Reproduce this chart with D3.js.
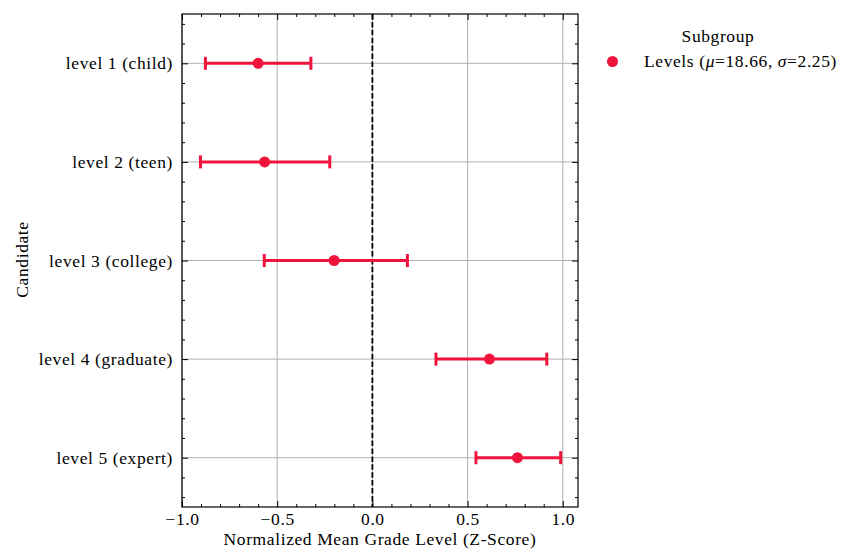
<!DOCTYPE html>
<html>
<head>
<meta charset="utf-8">
<script src="https://cdn.jsdelivr.net/npm/d3@7"></script>
<style>
  body { margin: 0; background: #fff; }
  svg { display: block; }
  text { font-family: "Liberation Serif", "Times New Roman", serif; fill: #000; letter-spacing: 0.6px; }
</style>
</head>
<body>
<svg id="chart" width="844" height="551"></svg>
<script>
// ---- data ----
const categories = ["level 1 (child)", "level 2 (teen)", "level 3 (college)", "level 4 (graduate)", "level 5 (expert)"];
const means = [-0.60, -0.566, -0.201, 0.615, 0.762];
const lowerBounds = [-0.877, -0.903, -0.568, 0.334, 0.544];
const upperBounds = [-0.323, -0.224, 0.184, 0.916, 0.989];
const xTickValues = [-1.0, -0.5, 0.0, 0.5, 1.0];
const xLabel = "Normalized Mean Grade Level (Z-Score)";
const yLabel = "Candidate";
const legendTitle = "Subgroup";
const seriesName = "Levels";
const seriesMu = "18.66";
const seriesSigma = "2.25";

// ---- layout ----
const W = 844, H = 551;
const m = { left: 182, right: 578, top: 14, bottom: 507 };
const red = "#F0143C";
const FS = 17.5;

const svg = d3.select("#chart");

const x = d3.scaleLinear().domain([-1.0, 1.08]).range([m.left, m.right]);
const y = d3.scaleLinear().domain([-0.5, 4.5]).range([m.top, m.bottom]);

const fmt = d3.format(".1f");

// grid
const g = svg.append("g");
g.selectAll("line.vgrid").data(xTickValues).join("line")
  .attr("x1", d => x(d)).attr("x2", d => x(d))
  .attr("y1", m.top).attr("y2", m.bottom)
  .attr("stroke", "#b0b0b0").attr("stroke-width", 1);
g.selectAll("line.hgrid").data(categories).join("line")
  .attr("x1", m.left).attr("x2", m.right)
  .attr("y1", (d, i) => y(i)).attr("y2", (d, i) => y(i))
  .attr("stroke", "#b0b0b0").attr("stroke-width", 1);

// zero line
svg.append("line")
  .attr("x1", x(0)).attr("x2", x(0))
  .attr("y1", m.top).attr("y2", m.bottom)
  .attr("stroke", "#000").attr("stroke-width", 1.8)
  .attr("stroke-dasharray", "5.5,2.4");

// minor tick values
const xMinor = d3.range(-10, 11).map(v => v / 10).filter(v => xTickValues.every(t => Math.abs(t - v) > 1e-9));
const yMinor = d3.range(-2, 23).map(v => v / 5).filter(v => Math.abs(v - Math.round(v)) > 1e-9);

function styleAxis(sel) {
  sel.select(".domain").remove();
  sel.selectAll(".tick line").attr("stroke", "#000").attr("stroke-width", 1);
}

// bottom axis
const bottom = svg.append("g").attr("transform", `translate(0,${m.bottom})`)
  .call(d3.axisBottom(x).tickValues(xTickValues).tickFormat(fmt).tickSize(-6));
styleAxis(bottom);
bottom.selectAll("text").attr("font-size", FS).attr("font-family", "Liberation Serif")
  .attr("y", 18).attr("dy", 0);
svg.append("g").attr("transform", `translate(0,${m.bottom})`)
  .call(d3.axisBottom(x).tickValues(xMinor).tickFormat("").tickSize(-3)).call(styleAxis);
// top axis
svg.append("g").attr("transform", `translate(0,${m.top})`)
  .call(d3.axisTop(x).tickValues(xTickValues).tickFormat("").tickSize(-6)).call(styleAxis);
svg.append("g").attr("transform", `translate(0,${m.top})`)
  .call(d3.axisTop(x).tickValues(xMinor).tickFormat("").tickSize(-3)).call(styleAxis);

// left axis
const left = svg.append("g").attr("transform", `translate(${m.left},0)`)
  .call(d3.axisLeft(y).tickValues(d3.range(categories.length)).tickFormat(i => categories[i]).tickSize(-6).tickPadding(9));
styleAxis(left);
left.selectAll("text").attr("font-size", FS).attr("font-family", "Liberation Serif");
svg.append("g").attr("transform", `translate(${m.left},0)`)
  .call(d3.axisLeft(y).tickValues(yMinor).tickFormat("").tickSize(-3)).call(styleAxis);
// right axis
svg.append("g").attr("transform", `translate(${m.right},0)`)
  .call(d3.axisRight(y).tickValues(d3.range(categories.length)).tickFormat("").tickSize(-6)).call(styleAxis);
svg.append("g").attr("transform", `translate(${m.right},0)`)
  .call(d3.axisRight(y).tickValues(yMinor).tickFormat("").tickSize(-3)).call(styleAxis);

// frame
svg.append("rect")
  .attr("x", m.left).attr("y", m.top)
  .attr("width", m.right - m.left).attr("height", m.bottom - m.top)
  .attr("fill", "none").attr("stroke", "#000").attr("stroke-width", 1.2);

// error bars
const rows = categories.map((c, i) => ({ c, i, mean: means[i], lo: lowerBounds[i], hi: upperBounds[i] }));
const eb = svg.append("g");
eb.selectAll("line.err").data(rows).join("line")
  .attr("x1", d => x(d.lo)).attr("x2", d => x(d.hi))
  .attr("y1", d => y(d.i)).attr("y2", d => y(d.i))
  .attr("stroke", red).attr("stroke-width", 3);
eb.selectAll("line.capl").data(rows).join("line")
  .attr("x1", d => x(d.lo)).attr("x2", d => x(d.lo))
  .attr("y1", d => y(d.i) - 6.5).attr("y2", d => y(d.i) + 6.5)
  .attr("stroke", red).attr("stroke-width", 3);
eb.selectAll("line.caph").data(rows).join("line")
  .attr("x1", d => x(d.hi)).attr("x2", d => x(d.hi))
  .attr("y1", d => y(d.i) - 6.5).attr("y2", d => y(d.i) + 6.5)
  .attr("stroke", red).attr("stroke-width", 3);
eb.selectAll("circle").data(rows).join("circle")
  .attr("cx", d => x(d.mean)).attr("cy", d => y(d.i)).attr("r", 5.5)
  .attr("fill", red);

// axis labels
svg.append("text").attr("x", (m.left + m.right) / 2).attr("y", 545)
  .attr("text-anchor", "middle").attr("font-size", FS).text(xLabel);
svg.append("text").attr("transform", `translate(28,${(m.top + m.bottom) / 2 - 1}) rotate(-90)`)
  .attr("text-anchor", "middle").attr("font-size", FS).text(yLabel);

// legend
const lg = svg.append("g");
lg.append("text").attr("x", 718).attr("y", 42).attr("text-anchor", "middle")
  .attr("font-size", FS).text(legendTitle);
lg.append("circle").attr("cx", 612.5).attr("cy", 61.5).attr("r", 5.5).attr("fill", red);
const lt = lg.append("text").attr("x", 644).attr("y", 67).attr("font-size", FS);
lt.append("tspan").text(seriesName + " (");
lt.append("tspan").attr("font-style", "italic").text("μ");
lt.append("tspan").text("=" + seriesMu + ", ");
lt.append("tspan").attr("font-style", "italic").text("σ");
lt.append("tspan").text("=" + seriesSigma + ")");
</script>
</body>
</html>
